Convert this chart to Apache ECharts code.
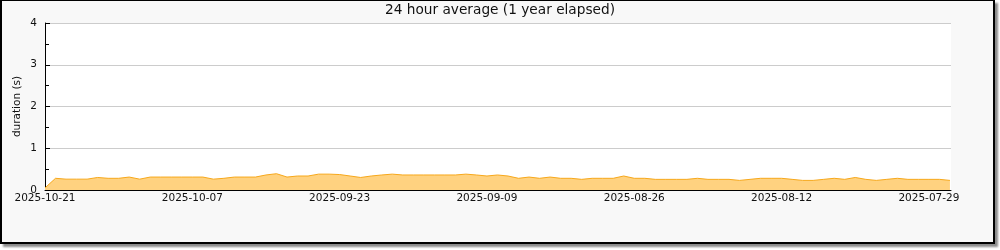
<!DOCTYPE html>
<html>
<head>
<meta charset="utf-8">
<script src="https://cdn.jsdelivr.net/npm/echarts@6/dist/echarts.min.js"></script>
<style>
  html, body { margin: 0; padding: 0; background: #ffffff; }
  #frame { position: absolute; left: 0; top: 0; width: 991px; height: 241px;
           background: #f8f8f8; border-style: solid; border-color: #000;
           border-width: 1px 2px 2px 2px; box-shadow: 3px 3px 2px #8a8a8a; }
  #chart { position: absolute; left: 0; top: 0; width: 1000px; height: 250px; }
</style>
</head>
<body>
<div id="frame"></div>
<div id="chart"></div>
<script>
// Reference start date (left edge of the x axis); x values are days before it.
const startDate = '2025-10-21';
// Tick labels shown along the x axis (every 14 days)
const tickLabels = ['2025-10-21', '2025-10-07', '2025-09-23', '2025-09-09', '2025-08-26', '2025-08-12', '2025-07-29'];
// Y axis half-step (unlabelled) tick values
const yHalfTicks = [0.5, 1.5, 2.5, 3.5];
// Daily 24h average durations (s), day 0 = 2025-10-21 going back in time
const durations = [
  0.05, 0.28, 0.26, 0.26, 0.26, 0.30, 0.28, 0.28, 0.31, 0.26,
  0.31, 0.31, 0.31, 0.31, 0.31, 0.31, 0.26, 0.28, 0.31, 0.31,
  0.31, 0.36, 0.39, 0.31, 0.335, 0.335, 0.38, 0.38, 0.37, 0.335,
  0.30, 0.335, 0.36, 0.38, 0.36, 0.36, 0.36, 0.36, 0.36, 0.36,
  0.38, 0.36, 0.335, 0.36, 0.335, 0.28, 0.31, 0.28, 0.31, 0.28,
  0.28, 0.255, 0.28, 0.28, 0.28, 0.335, 0.28, 0.28, 0.255, 0.255,
  0.255, 0.255, 0.28, 0.255, 0.255, 0.255, 0.23, 0.255, 0.28, 0.28,
  0.28, 0.255, 0.23, 0.23, 0.255, 0.28, 0.255, 0.30, 0.255, 0.23,
  0.255, 0.28, 0.255, 0.255, 0.255, 0.255, 0.23
];
const xSpanDays = 86.1;

const DAY = 86400000;
const t0 = Date.parse(startDate + 'T00:00:00Z');
function daysBefore(s) { return Math.round((t0 - Date.parse(s + 'T00:00:00Z')) / DAY); }
function dateOf(d) { return new Date(t0 - d * DAY).toISOString().slice(0, 10); }

const labelPos = tickLabels.map(daysBefore);
const tickPos = [];
labelPos.forEach((p, i) => { tickPos.push(p); if (i < labelPos.length - 1) tickPos.push((p + labelPos[i + 1]) / 2); });

const font = 'DejaVu Sans';
const chart = echarts.init(document.getElementById('chart'), null, { renderer: 'canvas' });
chart.setOption({
  animation: false,
  backgroundColor: 'transparent',
  title: {
    text: '24 hour average (1 year elapsed)',
    left: 'center', top: 3, padding: 0,
    textStyle: { fontFamily: font, fontSize: 13.7, fontWeight: 'normal', color: '#111' }
  },
  grid: {
    left: 45, right: 49, top: 23, bottom: 60, containLabel: false,
    show: true, backgroundColor: '#ffffff', borderWidth: 0
  },
  xAxis: {
    type: 'value', min: 0, max: xSpanDays,
    axisLine: { show: true, onZero: false, lineStyle: { color: '#000', width: 1 } },
    axisTick: { show: true, inside: true, length: 5, customValues: tickPos, lineStyle: { color: '#000' } },
    axisLabel: {
      customValues: labelPos, margin: 3,
      fontFamily: font, fontSize: 10.5, color: '#111',
      formatter: v => dateOf(v)
    },
    splitLine: { show: false }
  },
  yAxis: [{
    type: 'value', min: 0, max: 4, interval: 1,
    name: 'duration (s)', nameLocation: 'middle', nameGap: 22, nameMoveOverlap: false,
    nameTextStyle: { fontFamily: font, fontSize: 10.5, color: '#111' },
    axisLine: { show: true, lineStyle: { color: '#000', width: 1 } },
    axisTick: { show: true, inside: true, length: 5, lineStyle: { color: '#000' } },
    axisLabel: { margin: 8, fontFamily: font, fontSize: 10.5, color: '#111' },
    splitLine: { show: true, lineStyle: { color: '#cccccc', width: 1 } }
  }, {
    type: 'value', min: 0, max: 4, position: 'left', offset: 0,
    axisLine: { show: false },
    axisTick: { show: true, inside: true, length: 4, customValues: yHalfTicks, lineStyle: { color: '#000' } },
    axisLabel: { show: false },
    splitLine: { show: false }
  }],
  series: [{
    type: 'line',
    data: durations.map((v, i) => [i, v]),
    showSymbol: false,
    lineStyle: { color: '#f7a81b', width: 1 },
    areaStyle: { color: '#ffd280', opacity: 1 },
    z: 1
  }]
});
</script>
</body>
</html>
